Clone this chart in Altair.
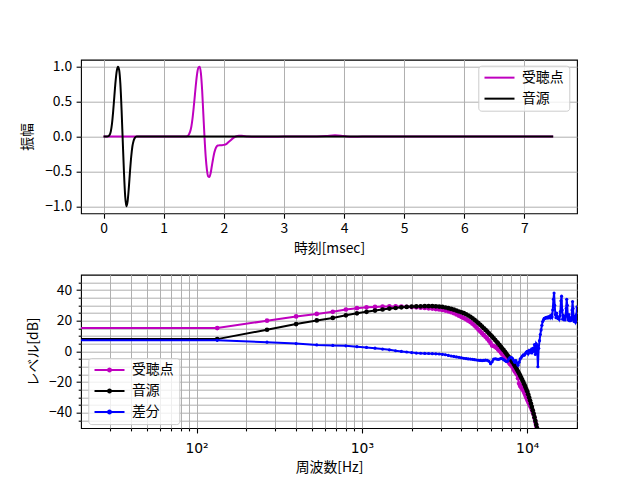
import altair as alt
import pandas as pd

FONT = "Noto Sans CJK JP"
FS = 13.9
LW = 2.0

# ---------------- time domain: time [msec] / amplitude ----------------
src_t = [0.0, 0.06, 0.08, 0.10, 0.12, 0.14, 0.16, 0.18, 0.20, 0.22, 0.24, 0.26, 0.28,
         0.30, 0.32, 0.34, 0.36, 0.38, 0.40, 0.42, 0.44, 0.46, 0.48, 0.50, 0.52, 0.55, 7.479]
src_v = [0.0, 0.0, 0.005, 0.02, 0.07, 0.18, 0.36, 0.58, 0.79, 0.94, 1.0, 0.95, 0.75,
         0.38, -0.08, -0.52, -0.86, -1.0, -0.93, -0.74, -0.5, -0.29, -0.14, -0.06, -0.02, 0.0, 0.0]

rec_t = [0.0, 1.36, 1.40, 1.42, 1.44, 1.46, 1.48, 1.50, 1.52, 1.54, 1.56, 1.58, 1.60,
         1.62, 1.64, 1.66, 1.68, 1.70, 1.72, 1.74, 1.76, 1.78, 1.80, 1.82, 1.84, 1.86,
         1.88, 1.90, 1.95, 2.00, 2.04, 2.08, 2.12, 2.16, 2.20, 2.25, 2.30, 2.40, 2.60,
         2.80, 3.00, 3.40, 3.70, 3.85, 3.95, 4.05, 4.15, 4.30, 7.479]
rec_v = [0.0, 0.0, 0.01, 0.03, 0.07, 0.14, 0.26, 0.42, 0.60, 0.78, 0.92, 0.99, 1.0,
         0.90, 0.66, 0.32, -0.02, -0.30, -0.48, -0.57, -0.58, -0.53, -0.43, -0.33, -0.24, -0.18,
         -0.145, -0.13, -0.125, -0.12, -0.11, -0.08, -0.05, -0.02, 0.0, 0.01, 0.01, 0.0, -0.005,
         -0.005, 0.0, 0.0, 0.008, 0.018, 0.012, 0.0, -0.004, 0.0, 0.0]

# ---------------- spectra: level [dB] per FFT bin (48 kHz, 360 points) ----------------
fs_hz = 48000
n_fft = 360
df_hz = fs_hz / n_fft

rec_db = [15.2, 15.2, 20.0, 22.8, 24.4, 25.8, 27.3, 28.2, 28.7, 29.0,
          29.2, 29.3, 29.3, 29.2, 29.1, 28.9, 28.7, 28.5, 28.3, 28.1,
          27.9, 27.6, 27.3, 27.0, 26.6, 26.1, 25.5, 24.9, 24.1, 23.3,
          22.5, 21.7, 20.9, 20.0, 19.1, 18.0, 16.8, 15.5, 14.2, 13.0,
          11.8, 10.6, 9.5, 8.3, 7.0, 5.5, 3.8, 3.5, 3.0, 2.2,
          1.2, 0.3, -0.8, -1.8, -2.8, -3.9, -5.0, -6.2, -7.3, -8.2,
          -9.0, -10.0, -11.5, -13.0, -14.0, -15.0, -17.5, -21.0, -22.5, -23.5,
          -24.5, -25.5, -27.0, -28.5, -30.0, -31.5, -32.8, -34.0, -35.3, -36.6,
          -38.0, -39.5, -41.2, -43.5, -46.0, -48.5, -51.0]

src_db = [8.0, 8.0, 14.1, 17.8, 20.2, 21.8, 23.5, 24.8, 25.8, 26.6,
          27.3, 27.9, 28.3, 28.7, 29.0, 29.2, 29.3, 29.4, 29.5, 29.5,
          29.5, 29.4, 29.2, 29.0, 28.6, 28.2, 27.7, 27.2, 26.6, 26.0,
          25.5, 24.9, 24.2, 23.4, 22.6, 21.6, 20.6, 19.5, 18.4, 17.3,
          16.2, 15.1, 14.0, 12.9, 11.8, 10.7, 9.6, 8.5, 7.4, 6.3,
          5.2, 4.1, 3.0, 1.9, 0.8, -0.3, -1.4, -2.5, -3.6, -4.7,
          -5.8, -6.9, -8.1, -9.3, -10.5, -11.8, -13.1, -14.4, -15.8, -17.2,
          -18.6, -20.0, -21.5, -23.0, -24.5, -26.0, -28.0, -30.0, -32.0, -34.1,
          -36.2, -38.4, -40.6, -42.9, -45.2, -47.6, -50.0, -52.5]

diff_db = [7.2, 7.2, 6.0, 5.1, 4.2, 3.9, 3.6, 3.1, 2.6, 2.1,
           1.5, 1.0, 0.4, 0.0, -0.4, -0.8, -1.1, -1.2, -1.3, -1.4,
           -1.5, -1.6, -1.7, -1.9, -2.2, -2.6, -3.0, -3.3, -3.6, -3.9,
           -4.2, -4.5, -4.7, -4.9, -5.0, -5.2, -5.4, -5.6, -5.8, -5.9,
           -6.0, -5.9, -5.7, -5.8, -6.4, -8.0, -6.8, -5.0, -4.8, -5.0,
           -5.2, -5.0, -4.6, -4.8, -5.4, -6.0, -6.6, -6.4, -5.0, -4.0,
           -3.8, -4.5, -5.8, -7.0, -6.0, -7.5, -9.0, -7.0, -5.0, -4.0,
           -3.0, -2.2, -2.5, -1.5, -0.5, 0.0, -1.5, 0.5, -0.5, 1.0,
           -1.0, 2.0, 0.0, 4.5, -2.0, 5.0, 4.0, -10.0, 2.0, 7.0,
           11.0, 14.0, 17.0, 19.5, 20.5, 21.5, 21.5, 22.0, 21.8, 22.3,
           21.8, 22.5, 22.0, 23.0, 22.0, 23.5, 22.5, 27.0, 34.0, 38.0,
           30.0, 24.0, 22.0, 25.0, 22.0, 21.5, 22.0, 21.0, 23.0, 26.0,
           33.0, 36.0, 27.0, 21.0, 23.5, 21.0, 21.5, 20.5, 23.0, 28.0,
           34.0, 30.0, 22.0, 20.5, 24.0, 20.0, 21.0, 20.0, 22.0, 20.5,
           27.0, 32.5, 28.0, 21.0, 19.5, 23.0, 20.0, 19.0, 20.0, 24.0,
           29.0, 27.0]

names = ["受聴点", "音源", "差分"]
colors = ["#bf00bf", "#000000", "#0000ff"]
marker_sizes = [22, 22, 10]

t_ticks = [0, 1, 2, 3, 4, 5, 6, 7]
amp_ticks = [-1.0, -0.5, 0.0, 0.5, 1.0]
f_major = [100, 1000, 10000]
f_major_labels = ["10²", "10³", "10⁴"]
f_minor = [30, 40, 50, 60, 70, 80, 90, 200, 300, 400, 500, 600, 700, 800, 900,
           2000, 3000, 4000, 5000, 6000, 7000, 8000, 9000]
db_major = [-40, -20, 0, 20, 40]
db_minor = [-45, -35, -30, -25, -15, -10, -5, 5, 10, 15, 25, 30, 35, 45]


def bin_freq(k):
    # the DC bin cannot sit on a log axis; like matplotlib, it is clipped to the far left
    return 1.0 if k == 0 else k * df_hz


top_df = pd.DataFrame({
    "t": rec_t + src_t,
    "v": rec_v + src_v,
    "s": [names[0]] * len(rec_t) + [names[1]] * len(src_t),
})

rows = []
for name, vals in zip(names, [rec_db, src_db, diff_db]):
    for k, v in enumerate(vals):
        rows.append({"f": bin_freq(k), "L": v, "s": name})
bot_df = pd.DataFrame(rows)

f_label_expr = ""
for val, lab in zip(f_major, f_major_labels):
    f_label_expr += f"datum.value == {val} ? '{lab}' : "
f_label_expr += "''"
db_major_js = "[" + ",".join(str(v) for v in db_major) + "]"
f_major_js = "[" + ",".join(str(v) for v in f_major) + "]"
db_label_expr = (f"indexof({db_major_js}, datum.value) >= 0 ? "
                 "replace(format(datum.value, 'd'), '-', '\u2212') : ''")


def major_minor_tick(major_js):
    return {"condition": {"test": f"indexof({major_js}, datum.value) >= 0", "value": 4.9},
            "value": 2.8}


legend_common = dict(
    title=None, orient="none", symbolSize=100, symbolStrokeWidth=LW,
    symbolOffset=9.25, labelOffset=15.5, padding=5, rowPadding=6,
    labelFont=FONT, labelFontSize=FS, labelColor="black",
    fillColor="rgba(255,255,255,0.8)", strokeColor="#cccccc", cornerRadius=3,
)

# ---------------- top panel ----------------
t_scale = alt.Scale(domain=[-0.375, 7.875], nice=False, zero=False)
a_scale = alt.Scale(domain=[-1.1, 1.1], nice=False, zero=False)
t_axis = alt.Axis(values=t_ticks, format="d", title="時刻[msec]", titleY=28,
                  labelPadding=3.5)
a_axis = alt.Axis(values=amp_ticks,
                  labelExpr="replace(format(datum.value, '.1f'), '-', '\u2212')",
                  title="振幅", titleX=-47, labelPadding=4.5)
top_color = alt.Color("s:N", scale=alt.Scale(domain=names[:2], range=colors[:2]),
                      legend=alt.Legend(legendX=397.3, legendY=6, symbolType="M-3,0H3",
                                        **legend_common))

top_layers = []
for name in names[:2]:
    top_layers.append(
        alt.Chart(top_df).transform_filter(alt.datum.s == name)
        .mark_line(strokeWidth=LW, clip=True, interpolate="monotone")
        .encode(x=alt.X("t:Q", scale=t_scale, axis=t_axis),
                y=alt.Y("v:Q", scale=a_scale, axis=a_axis),
                color=top_color)
    )
top = alt.layer(*top_layers).properties(width=496, height=153.6)

# ---------------- bottom panel ----------------
f_scale = alt.Scale(type="log", domain=[20, 20000], nice=False)
l_scale = alt.Scale(domain=[-50, 50], nice=False, zero=False)
fx_axis = alt.Axis(values=sorted(f_major + f_minor), labelExpr=f_label_expr,
                   labelOverlap=False, tickSize=major_minor_tick(f_major_js),
                   title="周波数[Hz]", titleY=32.5, labelPadding=8.5,
                   labelFont="DejaVu Sans")
ly_axis = alt.Axis(values=sorted(db_major + db_minor), labelExpr=db_label_expr,
                   labelOverlap=False, tickSize=major_minor_tick(db_major_js),
                   title="レベル[dB]", titleX=-40.5, labelPadding=4.5)

dot = 0.3
dot_path = f"M-3,0H3M{dot},0A{dot},{dot},0,1,1,-{dot},0A{dot},{dot},0,1,1,{dot},0Z"
bot_color = alt.Color("s:N", scale=alt.Scale(domain=names, range=colors),
                      legend=alt.Legend(legendX=7.3, legendY=83.4, symbolType=dot_path,
                                        **legend_common))

x_enc = alt.X("f:Q", scale=f_scale, axis=fx_axis)
y_enc = alt.Y("L:Q", scale=l_scale, axis=ly_axis)

bot_layers = []
for name, col, msz in zip(names, colors, marker_sizes):
    base = alt.Chart(bot_df).transform_filter(alt.datum.s == name)
    bot_layers.append(
        base.mark_line(strokeWidth=LW, clip=True).encode(x=x_enc, y=y_enc, color=bot_color)
    )
    bot_layers.append(
        base.mark_point(filled=True, size=msz, color=col, opacity=1, strokeWidth=0, clip=True)
        .encode(x=x_enc, y=y_enc)
    )
bottom = alt.layer(*bot_layers).properties(width=496, height=153.4)

chart = (
    alt.vconcat(top, bottom, spacing=61, bounds="flush")
    .resolve_scale(color="independent")
    .resolve_legend(color="independent")
    .properties(padding={"left": 11, "top": 50.7, "right": 20, "bottom": 0},
                background="white")
    .configure_view(stroke="black", strokeWidth=1.1)
    .configure_axis(
        labelFont=FONT, labelFontSize=FS, labelColor="black",
        titleFont=FONT, titleFontSize=FS, titleColor="black", titleFontWeight="normal",
        tickColor="black", tickWidth=1.1, tickSize=4.9, domain=False,
        grid=True, gridColor="#b0b0b0", gridWidth=1.0,
    )
)

chart.save("out.html", embed_options={"renderer": "svg", "actions": False})
